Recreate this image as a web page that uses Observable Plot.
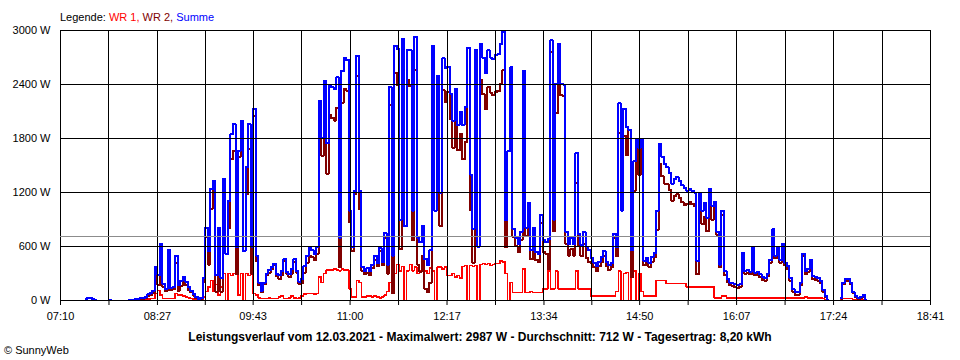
<!DOCTYPE html>
<html>
<head>
<meta charset="utf-8">
<script src="https://cdn.jsdelivr.net/npm/d3@7"></script>
<script src="https://cdn.jsdelivr.net/npm/@observablehq/plot@0.6"></script>
<style>
html, body { margin: 0; padding: 0; background: #fff; }
#wrap { position: relative; width: 960px; height: 360px; overflow: hidden; font-family: "Liberation Sans", Arial, sans-serif; color: #000; }
#chart { position: absolute; left: 0; top: 0; }
#legend { position: absolute; left: 60px; top: 10px; font-size: 11px; line-height: 14px; white-space: nowrap; }
#title { position: absolute; left: 0; width: 960px; top: 330px; text-align: center; font-weight: bold; font-size: 12px; line-height: 14px; white-space: nowrap; }
#copy { position: absolute; left: 4px; top: 343px; font-size: 11px; line-height: 14px; white-space: nowrap; }
</style>
</head>
<body>
<div id="wrap">
  <div id="chart"></div>
  <div id="legend"></div>
  <div id="title"></div>
  <div id="copy">© SunnyWeb</div>
</div>
<script>
// ---------- data ----------
const seriesNames = ["WR 1", "WR 2", "Summe"];
const seriesColors = ["#ff0000", "#800000", "#0000ff"];
const tickLabels = ["07:10","08:27","09:43","11:00","12:17","13:34","14:50","16:07","17:24","18:41"];
const yTicks = [0, 600, 1200, 1800, 2400, 3000];
const dateText = "12.03.2021";
const maxValue = 2987;
const avgValue = 712;
const dayYield = "8,20";

// samples every 2 minutes starting 07:30
const startTime = "07:30";
const stepMinutes = 2;

const summe = [
  15,25,30,20,10,            // 07:30
  null,null,null,null,5,     // 07:40
  5,null,null,null,null,     // 07:50
  null,null,5,8,10,          // 08:00
  15,20,25,30,35,            // 08:10
  70,80,110,370,280,         // 08:20
  630,180,130,560,140,       // 08:30
  150,500,170,220,260,       // 08:40
  210,150,110,70,40,         // 08:50
  15,30,250,810,550,         // 09:00
  1240,1330,280,810,250,     // 09:10
  1350,520,1110,1850,1960,   // 09:20
  590,1660,2000,550,1480,    // 09:30
  1960,600,2130,500,200,     // 09:40
  110,200,300,340,370,       // 09:50
  410,290,280,330,460,       // 10:00
  320,290,350,460,330,       // 10:10
  210,240,380,500,580,       // 10:20
  560,520,600,2220,1810,     // 10:30
  2440,1750,2400,2370,2350,  // 10:40
  2480,700,2550,2690,2670,   // 10:50
  1000,590,1220,2720,1220,   // 11:00
  370,330,360,330,400,       // 11:10
  500,420,580,430,750,       // 11:20
  400,2370,500,2830,2790,    // 11:30
  900,2910,830,2780,2780,    // 11:40
  1000,2930,700,650,830,     // 11:50
  460,390,560,2830,1000,     // 12:00
  2500,1200,2690,2580,2600,  // 12:10
  2300,2000,2350,1950,2100,  // 12:20
  1950,2150,2810,1400,800,   // 12:30
  2780,600,2850,2700,2530,   // 12:40
  2780,2700,2680,2730,2740,  // 12:50
  2850,2987,890,1660,2590,   // 13:00
  800,700,630,760,2550,      // 13:10
  810,1080,560,810,540,      // 13:20
  520,950,670,650,680,       // 13:30
  2890,900,2410,2850,2410,   // 13:40
  2400,760,630,700,630,      // 13:50
  1640,740,620,760,600,      // 14:00
  560,470,420,380,430,       // 14:10
  480,550,430,390,420,       // 14:20
  740,590,2190,1000,2130,    // 14:30
  1930,1900,560,1550,1780,   // 14:40
  1700,1800,440,470,420,     // 14:50
  480,530,1000,1740,1600,    // 15:00
  1520,1480,1420,1300,1350,  // 15:10
  1370,1330,1280,1250,1220,  // 15:20
  1240,1220,1200,440,1180,   // 15:30
  1000,1080,920,1240,1050,   // 15:40
  1100,760,400,1000,330,     // 15:50
  240,200,190,180,170,       // 16:00
  180,530,330,340,320,       // 16:10
  590,310,320,290,260,       // 16:20
  250,300,450,790,500,       // 16:30
  590,450,630,420,380,       // 16:40
  250,130,90,90,200,         // 16:50
  520,330,350,450,270,       // 17:00
  260,250,220,120,50,        // 17:10
  10,null,null,null,null,    // 17:20
  30,200,240,240,200,        // 17:30
  90,50,30,40,60,            // 17:40
  10                         // 17:50
];

const wr1 = [
  0,0,0,0,0,
  null,null,null,null,0,
  0,null,null,null,null,
  null,null,0,0,0,
  5,5,5,10,10,
  15,20,25,80,110,
  60,25,25,25,25,
  25,80,60,60,50,
  40,30,20,15,10,
  5,10,40,100,150,
  220,100,180,60,150,
  300,0,300,280,300,
  300,60,300,0,300,
  280,300,80,60,30,
  20,20,20,30,20,
  20,20,40,50,20,
  20,30,50,30,20,
  30,50,70,80,80,
  80,70,80,260,200,
  300,340,340,340,350,
  340,330,350,340,340,
  130,40,40,220,200,
  40,40,50,50,40,
  50,40,30,40,60,
  100,200,420,300,400,
  330,380,0,330,400,
  330,370,300,330,330,
  330,300,360,330,0,
  370,370,350,370,280,
  280,300,260,280,250,
  380,390,0,390,380,
  390,0,400,410,400,
  410,390,400,410,410,
  440,430,300,0,200,
  90,90,90,90,350,
  90,90,100,90,90,
  90,90,130,130,330,
  130,130,330,130,130,
  130,130,130,130,130,
  330,130,130,130,130,
  130,50,50,50,50,
  50,50,50,50,50,
  50,100,330,0,300,
  310,0,300,330,0,
  300,100,50,50,50,
  50,50,220,220,220,
  220,190,190,190,190,
  190,190,190,190,150,
  150,150,150,150,150,
  150,150,150,150,150,
  30,30,30,50,50,
  30,30,30,30,30,
  30,30,30,30,30,
  30,30,30,30,30,
  30,30,30,30,30,
  30,30,30,30,30,
  30,30,30,30,30,
  30,40,30,30,30,
  30,30,30,20,10,
  0,null,null,null,null,
  10,20,20,20,20,
  10,10,10,10,10,
  0
];

const wr2 = [
  15,25,30,20,10,
  null,null,null,null,5,
  5,null,null,null,null,
  null,null,5,8,10,
  10,15,20,20,25,
  55,60,85,290,170,
  570,155,105,535,115,
  125,420,110,160,210,
  170,120,90,55,30,
  10,20,210,710,400,
  1020,1230,100,750,100,
  1050,520,810,1570,1660,
  290,1600,1700,550,1180,
  1680,300,2050,440,170,
  90,180,280,310,350,
  390,270,240,280,440,
  300,260,300,430,310,
  180,190,310,420,500,
  480,450,520,1960,1610,
  2140,1410,2060,2030,2000,
  2140,370,2200,2350,2330,
  870,550,1180,2500,1020,
  330,290,310,280,360,
  450,380,550,390,690,
  300,2170,80,2530,2390,
  570,2530,830,2450,2380,
  670,2560,400,320,500,
  130,90,200,2500,1000,
  2130,830,2340,2210,2320,
  2020,1700,2090,1670,1850,
  1570,1760,2810,1010,420,
  2390,600,2450,2290,2130,
  2370,2310,2280,2320,2330,
  2410,2557,590,1660,2390,
  710,610,540,670,2200,
  720,990,460,720,450,
  430,860,540,520,350,
  2760,770,2080,2720,2280,
  2270,630,500,570,500,
  1310,610,490,630,470,
  430,420,370,330,380,
  430,500,380,340,370,
  690,490,1860,1000,1830,
  1620,1900,260,1220,1780,
  1400,1700,390,420,370,
  430,480,780,1520,1380,
  1300,1290,1230,1110,1160,
  1180,1140,1090,1060,1070,
  1090,1070,1050,290,1030,
  850,930,770,1090,900,
  1070,730,370,950,280,
  210,170,160,150,140,
  150,500,300,310,290,
  560,280,290,260,230,
  220,270,420,760,470,
  560,420,600,390,350,
  220,100,60,60,170,
  490,290,320,420,240,
  230,220,190,100,40,
  10,null,null,null,null,
  20,180,220,220,180,
  80,40,20,30,50,
  10
];

// ---------- build ----------
const toMin = s => { const [h, m] = s.split(":").map(Number); return h * 60 + m; };
const t0 = toMin(startTime);
const rows = summe.map((v, i) => ({
  t: t0 + i * stepMinutes,
  wr1: wr1[i] == null ? NaN : wr1[i],
  wr2: wr2[i] == null ? NaN : wr2[i],
  summe: v == null ? NaN : v
}));

const labelTimes = tickLabels.map(toMin);
const gridTimes = [];
labelTimes.forEach((m, i) => {
  gridTimes.push(m);
  if (i < labelTimes.length - 1) gridTimes.push((m + labelTimes[i + 1]) / 2);
});
const labelFor = new Map(labelTimes.map((m, i) => [m, tickLabels[i]]));

const chart = Plot.plot({
  width: 960,
  height: 360,
  marginLeft: 60,
  marginRight: 30,
  marginTop: 30,
  marginBottom: 60,
  style: { fontFamily: "'Liberation Sans', Arial, sans-serif", fontSize: "11px", color: "#000", background: "#fff" },
  x: { domain: [labelTimes[0], labelTimes[labelTimes.length - 1]] },
  y: { domain: [0, 3000] },
  marks: [
    Plot.line(rows, { x: "t", y: "wr1", stroke: seriesColors[0], strokeWidth: 1.5, curve: "step", shapeRendering: "crispEdges" }),
    Plot.line(rows, { x: "t", y: "wr2", stroke: seriesColors[1], strokeWidth: 2, curve: "step", shapeRendering: "crispEdges" }),
    Plot.line(rows, { x: "t", y: "summe", stroke: seriesColors[2], strokeWidth: 2, curve: "step", shapeRendering: "crispEdges" }),
    Plot.ruleX(gridTimes, { stroke: "#000", strokeWidth: 1, shapeRendering: "crispEdges" }),
    Plot.ruleY(yTicks, { stroke: "#000", strokeWidth: 1, shapeRendering: "crispEdges" }),
    Plot.ruleY([avgValue], { stroke: "#8c8c8c", strokeWidth: 1, shapeRendering: "crispEdges" }),
    Plot.axisY({ ticks: yTicks, tickFormat: d => d + " W", tickSize: 0, tickPadding: 10, fontSize: 11, label: null }),
    Plot.axisX({ ticks: gridTimes, tickFormat: d => labelFor.get(d) ?? "", tickSize: 5, tickPadding: 7, fontSize: 11, label: null, stroke: "#000" })
  ]
});
document.getElementById("chart").appendChild(chart);

// legend
const legend = document.getElementById("legend");
const lead = document.createElement("span");
lead.textContent = "Legende: ";
legend.appendChild(lead);
seriesNames.forEach((n, i) => {
  const s = document.createElement("span");
  s.style.color = seriesColors[i];
  s.textContent = n + (i < seriesNames.length - 1 ? ", " : "");
  legend.appendChild(s);
});

document.getElementById("title").textContent =
  "Leistungsverlauf vom " + dateText + " - Maximalwert: " + maxValue + " W - Durchschnitt: " + avgValue + " W - Tagesertrag: " + dayYield + " kWh";
</script>
</body>
</html>
